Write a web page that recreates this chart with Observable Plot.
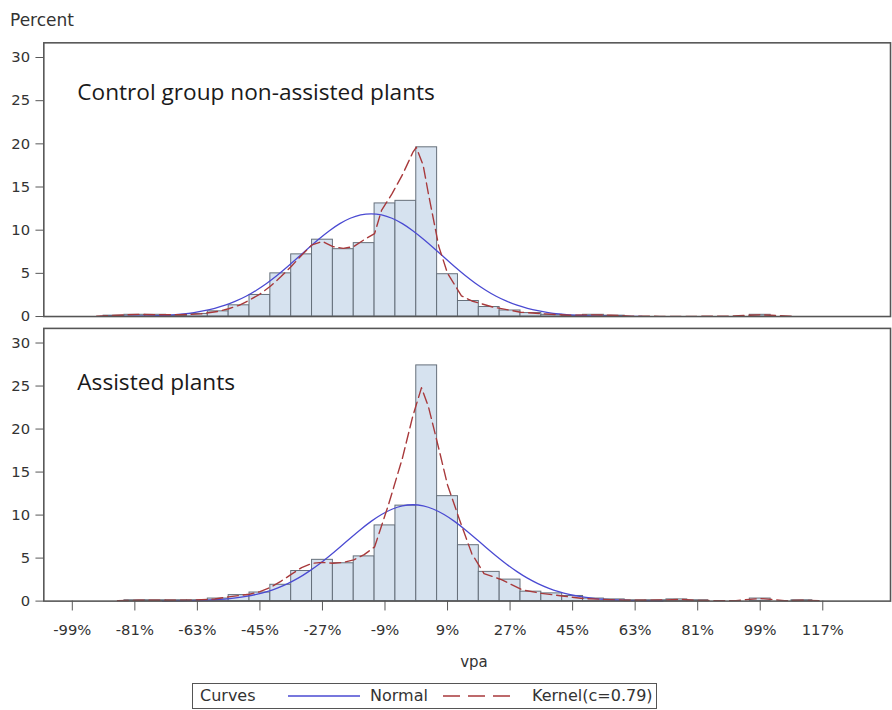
<!DOCTYPE html>
<html><head><meta charset="utf-8">
<script src="https://cdn.jsdelivr.net/npm/d3@7"></script>
<script src="https://cdn.jsdelivr.net/npm/@observablehq/plot@0.6"></script>
<style>
html,body{margin:0;padding:0;background:#fff;overflow:hidden;width:892px;height:710px;}
#wrap{position:relative;width:892px;height:710px;overflow:hidden;font-family:"DejaVu Sans",sans-serif;color:#333;background:#fff;}
.abs{position:absolute;white-space:nowrap;}
</style></head><body><div id="wrap"></div>
<script>
// ---- data ----
const binMid = [-87,-81,-75,-69,-63,-57,-51,-45,-39,-33,-27,-21,-15,-9,-3,3,9,15,21,27,33,39,45,51,57,63,69,75,81,87,93,99,105,111];
const controlPct  = [0.1,0.2,0.2,0.1,0.3,0.6,1.3,2.5,5.0,7.2,8.9,7.8,8.5,13.1,13.4,19.6,4.9,1.8,1.1,0.7,0.4,0.2,0.1,0.2,0.1,0,0,0,0,0,0,0.2,0,0];
const assistedPct = [0,0.1,0.1,0.1,0.1,0.3,0.7,1.0,1.9,3.5,4.8,4.4,5.2,8.8,11.1,27.4,12.2,6.5,3.4,2.5,1.1,0.9,0.6,0.3,0.2,0.1,0.1,0.2,0.1,0,0,0.3,0,0.1];

const controlNormalX = [-91,-88,-85,-82,-79,-76,-73,-70,-67,-64,-61,-58,-55,-52,-49,-46,-43,-40,-37,-34,-31,-28,-25,-22,-19,-16,-13,-10,-7,-4,-1,2,5,8,11,14,17,20,23,26,29,32,35,38,41,44,47,50,53,56,59,62,65];
const controlNormalY = [0.01,0.01,0.02,0.03,0.05,0.08,0.13,0.20,0.31,0.46,0.67,0.95,1.31,1.78,2.35,3.05,3.86,4.78,5.79,6.86,7.94,8.98,9.94,10.76,11.38,11.77,11.9,11.77,11.38,10.76,9.94,8.98,7.94,6.86,5.79,4.78,3.86,3.05,2.35,1.78,1.31,0.95,0.67,0.46,0.31,0.20,0.13,0.08,0.05,0.03,0.02,0.01,0.01];
const assistedNormalX = [-73,-70,-67,-64,-61,-58,-55,-52,-49,-46,-43,-40,-37,-34,-31,-28,-25,-22,-19,-16,-13,-10,-7,-4,-1,2,5,8,11,14,17,20,23,26,29,32,35,38,41,44,47,50,53,56,59,62,65,68,71];
const assistedNormalY = [0.01,0.02,0.04,0.06,0.10,0.16,0.24,0.37,0.54,0.78,1.10,1.52,2.04,2.67,3.43,4.29,5.25,6.27,7.31,8.33,9.27,10.07,10.68,11.07,11.2,11.07,10.68,10.07,9.27,8.33,7.31,6.27,5.25,4.29,3.43,2.67,2.04,1.52,1.10,0.78,0.54,0.37,0.24,0.16,0.10,0.06,0.04,0.02,0.01];

const controlKernelX = [-92,-86,-80,-74,-68,-62,-57,-54,-51,-48,-45,-42,-39,-36,-33,-30,-27,-24,-21,-18,-15,-12,-10,-7,-4,-1,0,2,3.5,6.5,9,13,16,22,30,37,44,50,56,62,70,80,90,96,99,102,108];
const controlKernelY = [0.05,0.15,0.25,0.2,0.2,0.3,0.6,0.9,1.3,1.9,2.6,3.5,4.6,5.8,7.1,8.3,8.7,8.1,7.9,8.1,8.9,9.6,12.3,14.2,16.4,19.0,19.6,17.5,14.2,8.1,5.0,2.4,1.8,1.1,0.5,0.3,0.15,0.2,0.15,0.05,0.02,0.02,0.05,0.15,0.2,0.15,0.03];
const assistedKernelX = [-86,-80,-72,-64,-58,-54,-48,-45,-42,-39,-36,-33,-30,-27,-24,-21,-18,-15,-12,-8,-4,-1,1.5,3.5,6.5,9,12.5,16,19.5,24.5,30.5,36,42,48,54,60,66,72,76,80,86,92,96,99,102,106,111,116];
const assistedKernelY = [0.05,0.1,0.1,0.12,0.25,0.5,0.8,1.1,1.6,2.3,3.1,3.9,4.4,4.5,4.4,4.5,4.8,5.4,6.3,11.2,16.6,21.5,24.8,22.6,17.7,13.5,9.4,5.5,3.2,2.5,1.3,0.9,0.6,0.3,0.2,0.1,0.1,0.15,0.2,0.1,0.05,0.05,0.2,0.3,0.2,0.05,0.1,0.05];

const panelLabels = ["Control group non-assisted plants", "Assisted plants"];
const xTicks = [-99,-81,-63,-45,-27,-9,9,27,45,63,81,99,117];
const yTicks = [0,5,10,15,20,25,30];
const binWidth = 6;

// ---- styles ----
const barFill = "#d6e2ef", barStroke = "#646e79";
const normalColor = "#4a4ad2", kernelColor = "#a8393b";
const frameColor = "#555";
const xDomain = [-107.2, 136.5];
const yDomain = [0, 31.7];

function rows(pct) {
  return binMid.map((m, i) => ({mid: m, pct: pct[i]})).filter(d => d.pct > 0);
}
function pts(xs, ys) { return xs.map((x, i) => ({x, y: ys[i]})); }

function panel({pct, nx, ny, kx, ky, label, height, marginTop, marginBottom, labelDy, showX}) {
  const marks = [
    Plot.rectY(rows(pct), {x1: d => d.mid - binWidth/2, x2: d => d.mid + binWidth/2, y: "pct",
      fill: barFill, stroke: barStroke, strokeWidth: 1, insetLeft: 0, insetRight: 0}),
    Plot.line(pts(nx, ny), {x: "x", y: "y", stroke: normalColor, strokeWidth: 1.3, curve: "natural"}),
    Plot.line(pts(kx, ky), {x: "x", y: "y", stroke: kernelColor, strokeWidth: 1.4, strokeDasharray: "11,5"}),
    Plot.text([label], {text: d => d, frameAnchor: "top-left", dx: 34, dy: labelDy, lineAnchor: "top",
      textAnchor: "start", fontSize: 23, fontFamily: "Open Sans", fill: "#1a1a1a"}),
    Plot.frame({stroke: frameColor, strokeWidth: 1.6}),
    Plot.axisY({ticks: yTicks, tickSize: 8, tickPadding: 6, label: null, stroke: "#555"})
  ];
  if (showX) marks.push(Plot.axisX({ticks: xTicks, tickFormat: d => d + "%", tickSize: 10, tickPadding: 14, label: null, stroke: "#555"}));
  return Plot.plot({
    width: 906, height, marginTop, marginBottom, marginLeft: 44, marginRight: 2,
    x: {domain: xDomain, axis: null},
    y: {domain: yDomain, axis: null},
    style: {fontFamily: "DejaVu Sans", fontSize: "15px", color: "#333", background: "transparent", overflow: "visible"},
    marks
  });
}

const wrap = document.getElementById("wrap");
const topPanel = panel({pct: controlPct, nx: controlNormalX, ny: controlNormalY, kx: controlKernelX, ky: controlKernelY,
  label: panelLabels[0], height: 322, marginTop: 43, marginBottom: 1, labelDy: 42, showX: false});
topPanel.style.position = "absolute"; topPanel.style.left = "0px"; topPanel.style.top = "0px";
wrap.appendChild(topPanel);

const botPanel = panel({pct: assistedPct, nx: assistedNormalX, ny: assistedNormalY, kx: assistedKernelX, ky: assistedKernelY,
  label: panelLabels[1], height: 388, marginTop: 6, marginBottom: 105, labelDy: 46, showX: true});
botPanel.style.position = "absolute"; botPanel.style.left = "0px"; botPanel.style.top = "322px";
wrap.appendChild(botPanel);

// y label
const yl = document.createElement("div");
yl.className = "abs"; yl.textContent = "Percent";
yl.style.cssText += "left:10px;top:12px;font-size:17px;line-height:17px;";
wrap.appendChild(yl);

// x label
const xl = document.createElement("div");
xl.className = "abs"; xl.textContent = "vpa";
xl.style.cssText += "left:474px;top:655px;font-size:15px;line-height:15px;transform:translateX(-50%);";
wrap.appendChild(xl);

// legend
const lg = document.createElement("div");
lg.className = "abs";
lg.style.cssText += "left:192px;top:683px;width:465px;height:26px;box-sizing:border-box;border:1.5px solid #555;font-size:16px;line-height:16px;";
lg.innerHTML =
  '<span class="abs" style="left:7px;top:4px;">Curves</span>' +
  '<svg class="abs" style="left:95px;top:0px" width="74" height="24"><line x1="0" x2="72" y1="12" y2="12" stroke="' + normalColor + '" stroke-width="1.4"/></svg>' +
  '<span class="abs" style="left:177px;top:4px;">Normal</span>' +
  '<svg class="abs" style="left:250px;top:0px" width="74" height="24"><line x1="0" x2="72" y1="12" y2="12" stroke="' + kernelColor + '" stroke-width="1.4" stroke-dasharray="17,8"/></svg>' +
  '<span class="abs" style="left:339px;top:4px;">Kernel(c=0.79)</span>';
wrap.appendChild(lg);
</script></body></html>
